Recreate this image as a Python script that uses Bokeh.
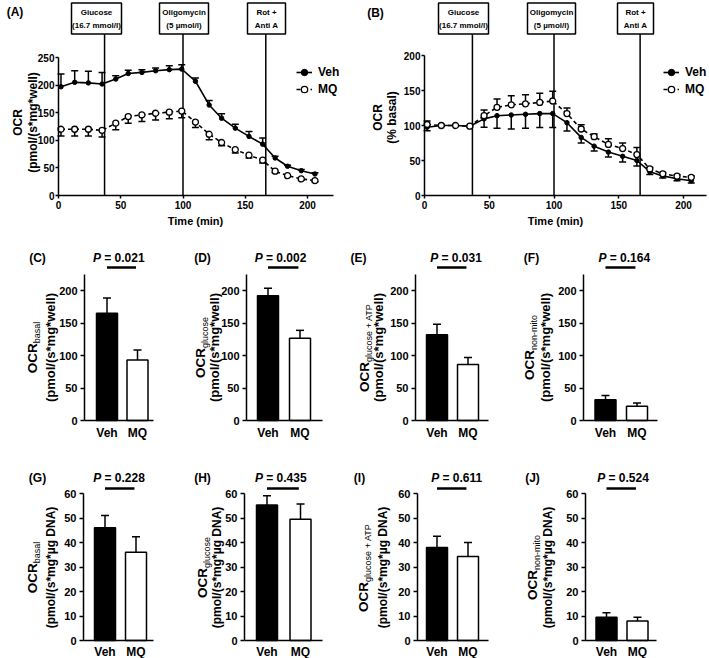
import math
from bokeh.plotting import figure
from bokeh.models import Range1d, FixedTicker, Label, Legend, LegendItem
from bokeh.layouts import row, column
from bokeh.embed import file_html
from bokeh.resources import INLINE
from bokeh.core.properties import value

FONT = "Liberation Sans"

# ---------------- data: time course (A, B) ----------------
time_min = [2, 13, 24, 35, 46, 56, 67, 78, 89, 99, 110, 121, 131, 142, 153, 164, 174, 184, 195, 206]
veh_abs = [197, 205, 204, 202, 211, 221, 223, 226, 228, 229, 207, 164, 140, 122, 107, 93, 68, 53, 45, 39]
veh_abs_sem = [23, 21, 21, 21, 6, 6, 5, 5, 7, 8, 6, 8, 8, 7, 9, 11, 3, 2, 2, 2]
mq_abs = [120, 120, 120, 118, 131, 143, 146, 149, 151, 153, 133, 111, 96, 83, 73, 64, 44, 36, 30, 27]
mq_abs_sem = [12, 12, 12, 12, 12, 12, 12, 12, 12, 12, 10, 10, 6, 6, 5, 5, 3, 2, 2, 2]

veh_pct = [97.6, 100, 100, 99, 109.5, 114, 115, 116, 117, 117, 104, 83, 70.5, 62, 56, 50, 34, 28, 24, 21]
veh_pct_sem = [5, 1, 1, 1, 12, 18, 20, 20, 20, 20, 12, 8, 7, 7, 8, 8, 4, 3, 3, 3]
mq_pct = [101.4, 100, 100, 99, 114, 126, 129.5, 131, 133, 135, 117, 95, 84, 73, 67, 58.5, 38, 31, 27.6, 26]
mq_pct_sem = [5, 1, 1, 1, 8, 12, 13, 13, 13, 14, 8, 6, 4, 8, 8, 10, 2, 2, 2, 2]

injection_times = [37, 100, 166.5]
injection_line1 = ["Giucose", "Oligomycin", "Rot +"]
injection_line2 = ["(16.7 mmol/l)", "(5 µmol/l)", "Anti A"]

time_ticks = [0, 50, 100, 150, 200]
abs_ticks = [0, 50, 100, 150, 200, 250]
pct_ticks = [0, 50, 100, 150, 200]

# ---------------- data: bar panels (C-J) ----------------
groups = ["Veh", "MQ"]
ocr_basal_well = [165, 93]
ocr_basal_well_sem = [23.5, 15.5]
ocr_glucose_well = [192, 126.5]
ocr_glucose_well_sem = [11.5, 12.2]
ocr_atp_well = [132, 86]
ocr_atp_well_sem = [16, 11]
ocr_nonmito_well = [32, 22]
ocr_nonmito_well_sem = [6.5, 5]
ocr_basal_dna = [46, 36]
ocr_basal_dna_sem = [5, 6.3]
ocr_glucose_dna = [55.3, 49.5]
ocr_glucose_dna_sem = [3.8, 6.2]
ocr_atp_dna = [38, 34.3]
ocr_atp_dna_sem = [4.6, 5.7]
ocr_nonmito_dna = [9.5, 8]
ocr_nonmito_dna_sem = [1.8, 1.5]
p_values = ["0.021", "0.002", "0.031", "0.164", "0.228", "0.435", "0.611", "0.524"]
well_ticks = [0, 50, 100, 150, 200]
dna_ticks = [0, 10, 20, 30, 40, 50, 60]

# ---------------- helpers ----------------
REG = {'a': 556, 'b': 556, 'c': 500, 'e': 556, 'g': 556, 'i': 222, 'l': 222, 'm': 833,
       'n': 556, 'o': 556, 's': 500, 't': 278, 'u': 556, ' ': 278, '+': 584, '-': 333,
       'A': 667, 'T': 611, 'P': 667}


def w_reg(s, size):
    return sum(REG.get(ch, 556) for ch in s) / 1000.0 * size


def full_fig(fx0, fx1, fy0, fy1, xr, yr):
    p = figure(width=fx1 - fx0, height=fy1 - fy0,
               x_range=Range1d(*xr), y_range=Range1d(*yr),
               output_backend="svg", toolbar_location=None,
               min_border_left=0, min_border_right=0,
               min_border_top=0, min_border_bottom=0)
    p.outline_line_color = None
    p.xgrid.visible = False
    p.ygrid.visible = False
    p.background_fill_color = "white"
    p.border_fill_color = "white"
    return p


def style_axis(ax, size, tick_out=4, standoff=2):
    ax.axis_line_width = 1.5
    ax.axis_line_color = "black"
    ax.major_tick_line_width = 1.5
    ax.major_tick_line_color = "black"
    ax.major_tick_out = tick_out
    ax.major_tick_in = 0
    ax.minor_tick_line_color = None
    ax.major_label_text_font = FONT
    ax.major_label_text_font_style = "bold"
    ax.major_label_text_font_size = f"{size}px"
    ax.major_label_text_color = "black"
    ax.major_label_standoff = standoff


def add_text(p, x, y, text, size, style="bold", angle=0.0, align="center",
             baseline="middle", x_offset=0.0):
    p.add_layout(Label(x=x, y=y, x_offset=x_offset, text=text, angle=angle,
                       text_align=align, text_baseline=baseline, text_font=FONT,
                       text_font_size=f"{size}px", text_font_style=style,
                       text_color="black"))


def ocr_label(p, x, yc, y_per, sub, size_main=13.5, size_sub=9, shift=4):
    w_main = 2.222 * size_main
    w_sub = w_reg(sub, size_sub)
    L = w_main + w_sub
    yj = yc + (w_main - L / 2.0) / y_per
    add_text(p, x, yj, "OCR", size_main, angle=math.pi / 2, align="right")
    add_text(p, x, yj, sub, size_sub, style="normal", angle=math.pi / 2, align="left",
             x_offset=shift)


# ---------------- time-course panels ----------------
def time_panel(fx0, fx1, FL, FR, x_per, y_per, y_axis_top, yticks,
               veh, veh_sem, mq, mq_sem, veh_up, box_px, letter, letter_px,
               ylab2, ylab_px, ylab_cpx, legend_loc, time_lab_x):
    fy0, fy1, FB = 0, 228, 195

    def yv(px):
        return (FB - px) / y_per

    def xv(px):
        return (px - FL) / x_per

    p = full_fig(fx0, fx1, fy0, fy1, (xv(fx0), xv(fx1)), (yv(fy1), yv(fy0)))

    style_axis(p.xaxis[0], 10, tick_out=3, standoff=2)
    style_axis(p.yaxis[0], 10, tick_out=3, standoff=1)
    p.xaxis.fixed_location = 0
    p.yaxis.fixed_location = 0
    p.xaxis.ticker = FixedTicker(ticks=time_ticks)
    p.yaxis.ticker = FixedTicker(ticks=yticks)
    p.xaxis.bounds = (0, xv(FR))
    p.yaxis.bounds = (0, y_axis_top)
    add_text(p, xv(time_lab_x), yv(220), "Time (min)", 11)

    # injection boxes + lines
    b_bot, b_top = yv(33.5), yv(2.5)
    lefts = [xv(a) for a, b in box_px]
    rights = [xv(b) for a, b in box_px]
    p.segment(x0=injection_times, y0=[0] * 3, x1=injection_times, y1=[b_bot] * 3,
              line_color="black", line_width=1.5)
    p.quad(left=lefts, right=rights, bottom=[b_bot] * 3, top=[b_top] * 3,
           fill_color="white", line_color="black", line_width=1.5)
    cx = [(a + b) / 2 for a, b in zip(lefts, rights)]
    p.text(x=cx, y=[yv(11.5)] * 3, text=injection_line1, text_font=value(FONT),
           text_font_size="8px", text_font_style="bold", text_align="center",
           text_baseline="middle", text_color="black")
    p.text(x=cx, y=[yv(24.5)] * 3, text=injection_line2, text_font=value(FONT),
           text_font_size="8px", text_font_style="bold", text_align="center",
           text_baseline="middle", text_color="black")

    # error bars
    sgn_v = 1 if veh_up else -1
    sgn_m = -sgn_v
    veh_end = [v + sgn_v * s for v, s in zip(veh, veh_sem)]
    mq_end = [v + sgn_m * s for v, s in zip(mq, mq_sem)]
    p.segment(x0=time_min, y0=veh, x1=time_min, y1=veh_end, line_color="black", line_width=1.5)
    p.scatter(x=time_min, y=veh_end, marker="dash", size=7, line_color="black", line_width=1.5)
    p.segment(x0=time_min, y0=mq, x1=time_min, y1=mq_end, line_color="black", line_width=1.5)
    p.scatter(x=time_min, y=mq_end, marker="dash", size=7, line_color="black", line_width=1.5)

    # series
    l_veh = p.line(time_min, veh, line_color="black", line_width=1.6)
    l_mq = p.line(time_min, mq, line_color="black", line_width=1.6, line_dash="4 3")
    s_veh = p.scatter(time_min, veh, marker="circle", size=4.5, fill_color="black",
                      line_color="black")
    s_mq = p.scatter(time_min, mq, marker="circle", size=6, fill_color="white",
                     line_color="black", line_width=1.3)

    legend = Legend(items=[LegendItem(label="Veh", renderers=[l_veh, s_veh]),
                           LegendItem(label="MQ", renderers=[l_mq, s_mq])],
                    location=legend_loc, glyph_width=16, glyph_height=16,
                    label_height=16, spacing=1, padding=0, margin=0,
                    label_standoff=6, border_line_color=None,
                    background_fill_alpha=0, label_text_font=FONT,
                    label_text_font_style="bold", label_text_font_size="12px",
                    label_text_color="black")
    p.add_layout(legend)

    add_text(p, xv(letter_px[0]), yv(letter_px[1]), letter, 12)
    l1x, l2x = ylab_px
    add_text(p, xv(l1x), yv(ylab_cpx), "OCR", 12, angle=math.pi / 2)
    add_text(p, xv(l2x), yv(ylab_cpx), ylab2, 12, angle=math.pi / 2)
    return p


pA = time_panel(0, 350, 58, 333, 1.245, 0.552, 250, abs_ticks,
                veh_abs, veh_abs_sem, mq_abs, mq_abs_sem, True,
                [(71, 121), (159, 208), (247, 285)], "(A)", (14.5, 11),
                "(pmol/(s*mg*well)", (17, 32), 122, (296, 131), 195)
pB = time_panel(350, 709, 424, 706, 1.295, 0.7, 200, pct_ticks,
                veh_pct, veh_pct_sem, mq_pct, mq_pct_sem, False,
                [(438, 488), (527, 575), (617, 653)], "(B)", (375, 12),
                "(% basal)", (377, 391), 117, (313, 131), 555)


# ---------------- bar panels ----------------
def bar_panel(fx0, fx1, FL, FR, cV, cM, mid, vals, sems, axis_top, yticks,
              pval, p_dx, sub, unit, lab_px, letter, letter_x):
    if mid:
        fy0, fy1, FB = 228, 440, 420
        y_per = 0.65
        line_px, p_px, let_px, lab_c = 267, 257, 257, 347
        unit_size = 13
        x_standoff = 5
    else:
        fy0, fy1, FB = 440, 658, 640
        y_per = 147.0 / 60.0
        line_px, p_px, let_px, lab_c = 488, 477, 477, 567
        unit_size = 12
        x_standoff = 4
    x_per = cM - cV

    def xv(px):
        return 1 + (px - cV) / x_per

    def yv(px):
        return (FB - px) / y_per

    p = full_fig(fx0, fx1, fy0, fy1, (xv(fx0), xv(fx1)), (yv(fy1), yv(fy0)))

    style_axis(p.yaxis[0], 11, tick_out=4, standoff=3)
    style_axis(p.xaxis[0], 12, tick_out=0, standoff=x_standoff)
    p.yaxis.fixed_location = xv(FL)
    p.xaxis.fixed_location = 0
    p.yaxis.ticker = FixedTicker(ticks=yticks)
    p.yaxis.bounds = (0, axis_top)
    p.xaxis.bounds = (xv(FL), xv(FR))
    p.xaxis.ticker = FixedTicker(ticks=[1, 2])
    p.xaxis.major_label_overrides = {1: groups[0], 2: groups[1]}

    xs = [1, 2]
    bw = 21.0 / x_per
    tops = [v + s for v, s in zip(vals, sems)]
    p.segment(x0=xs, y0=vals, x1=xs, y1=tops, line_color="black", line_width=1.5)
    p.scatter(x=xs, y=tops, marker="dash", size=8, line_color="black", line_width=1.5)
    p.vbar(x=xs, top=vals, bottom=0, width=bw, fill_color=["black", "white"],
           line_color="black", line_width=1.5)

    # significance bar and P text
    p.segment(x0=[1.0], y0=[yv(line_px)], x1=[1.95], y1=[yv(line_px)],
              line_color="black", line_width=2.5)
    wP = 0.667 * 12
    wrest = 3.642 * 12
    start = -(wP + wrest) / 2.0 + p_dx
    add_text(p, 1.5, yv(p_px), "P", 12, style="bold italic", align="left", x_offset=start)
    add_text(p, 1.5, yv(p_px), "= " + pval, 12, align="left",
             x_offset=start + wP + 0.278 * 12)

    add_text(p, xv(letter_x), yv(let_px), letter, 12)

    l1x, l2x = lab_px
    ylc = yv(lab_c)
    ocr_label(p, xv(l1x), ylc, y_per, sub)
    add_text(p, xv(l2x), ylc, unit, unit_size, angle=math.pi / 2)
    return p


unit_well = "(pmol/(s*mg*well)"
unit_dna = "(pmol/(s*mg*µg DNA)"

pC = bar_panel(0, 180, 84, 153, 106.5, 137, True, ocr_basal_well, ocr_basal_well_sem, 225,
               well_ticks, p_values[0], -3.5, "basal", unit_well, (32, 50), "(C)", 37)
pD = bar_panel(180, 345, 246, 322, 267.5, 299.5, True, ocr_glucose_well, ocr_glucose_well_sem, 225,
               well_ticks, p_values[1], -3.5, "glucose", unit_well, (200, 214), "(D)", 202)
pE = bar_panel(345, 518, 415, 488, 436.5, 467.5, True, ocr_atp_well, ocr_atp_well_sem, 225,
               well_ticks, p_values[2], 3.5, "glucose + ATP", unit_well, (364, 378), "(E)", 358)
pF = bar_panel(518, 709, 583, 657, 605, 636.5, True, ocr_nonmito_well, ocr_nonmito_well_sem, 225,
               well_ticks, p_values[3], 3, "non-mito", unit_well, (529, 545), "(F)", 531)
pG = bar_panel(0, 180, 83, 153, 104.5, 135.5, False, ocr_basal_dna, ocr_basal_dna_sem, 60,
               dna_ticks, p_values[4], -1.5, "basal", unit_dna, (32, 50), "(G)", 37)
pH = bar_panel(180, 345, 244, 322, 266.5, 300, False, ocr_glucose_dna, ocr_glucose_dna_sem, 60,
               dna_ticks, p_values[5], -3, "glucose", unit_dna, (202, 216), "(H)", 202)
pI = bar_panel(345, 518, 417, 488, 436.5, 467.5, False, ocr_atp_dna, ocr_atp_dna_sem, 60,
               dna_ticks, p_values[6], 4.5, "glucose + ATP", unit_dna, (363, 382), "(I)", 359)
pJ = bar_panel(518, 709, 585, 656, 606, 637, False, ocr_nonmito_dna, ocr_nonmito_dna_sem, 60,
               dna_ticks, p_values[7], 1, "non-mito", unit_dna, (532, 547), "(J)", 532)

layout = column(row(pA, pB), row(pC, pD, pE, pF), row(pG, pH, pI, pJ))

open("out.html", "w").write(file_html(layout, INLINE))
